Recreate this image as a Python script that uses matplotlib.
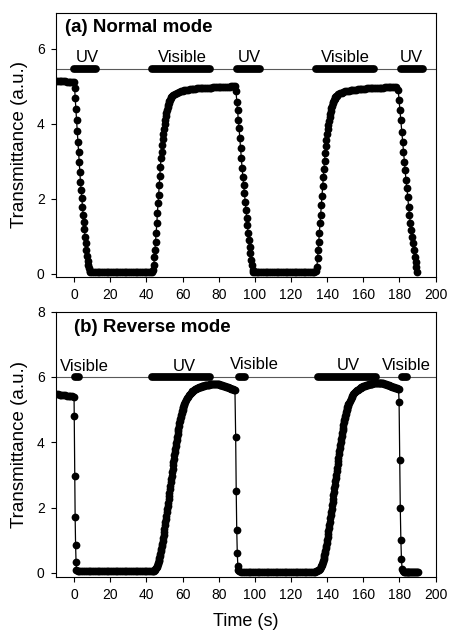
import numpy as np
import matplotlib
matplotlib.use("Agg")
import matplotlib.pyplot as plt

plt.rcParams['font.family'] = ['Liberation Sans', 'DejaVu Sans']

# ---------------- Panel (a): Normal mode ----------------
# each segment: (start time, time step) and its values
a_seg_times = [(-10, 1), (0.3, 0.36), (9, 1), (43.8, 0.33), (55, 1),
               (89.6, 0.42), (100, 1), (134, 0.35), (146, 1), (179.3, 0.48)]
a_flat0 = [5.14, 5.14, 5.13, 5.13, 5.13, 5.13, 5.12, 5.12, 5.12, 5.12, 5.11]
a_drop1 = [4.95, 4.68, 4.39, 4.10, 3.82, 3.52, 3.26, 2.99, 2.72, 2.46, 2.24, 2.02,
           1.79, 1.57, 1.39, 1.19, 0.99, 0.82, 0.64, 0.49, 0.35, 0.24, 0.15, 0.08]
a_low1 = [0.06, 0.05, 0.05, 0.05, 0.05, 0.05, 0.05, 0.05, 0.05, 0.05,
          0.05, 0.05, 0.05, 0.05, 0.05, 0.05, 0.05, 0.05, 0.05, 0.05,
          0.05, 0.05, 0.05, 0.05, 0.05, 0.05, 0.05, 0.05, 0.05, 0.05,
          0.05, 0.05, 0.05, 0.05, 0.05]
a_rise1 = [0.10, 0.24, 0.46, 0.64, 0.86, 1.08, 1.35, 1.62, 1.88, 2.10, 2.37, 2.61,
           2.86, 3.08, 3.26, 3.44, 3.60, 3.74, 3.87, 3.99, 4.10, 4.20, 4.29, 4.37,
           4.44, 4.50, 4.55, 4.60, 4.64, 4.68, 4.71, 4.74]
a_high1 = [4.77, 4.80, 4.83, 4.85, 4.87, 4.88, 4.89, 4.90, 4.91, 4.92,
           4.92, 4.93, 4.93, 4.94, 4.94, 4.95, 4.95, 4.95, 4.96, 4.96,
           4.96, 4.96, 4.97, 4.97, 4.97, 4.97, 4.98, 4.98, 4.98, 4.99,
           4.99, 4.99, 5.00, 5.00, 5.00]
a_drop2 = [4.86, 4.59, 4.37, 4.10, 3.88, 3.61, 3.35, 3.08, 2.81, 2.59, 2.37, 2.15,
           1.93, 1.70, 1.48, 1.30, 1.08, 0.91, 0.73, 0.55, 0.37, 0.24, 0.11, 0.04]
a_low2 = [0.04, 0.04, 0.04, 0.04, 0.04, 0.04, 0.04, 0.04, 0.04, 0.04,
          0.04, 0.04, 0.04, 0.04, 0.04, 0.04, 0.04, 0.04, 0.04, 0.04,
          0.04, 0.04, 0.04, 0.04, 0.04, 0.04, 0.04, 0.04, 0.04, 0.04,
          0.04, 0.04, 0.04, 0.05]
a_rise2 = [0.08, 0.19, 0.42, 0.64, 0.86, 1.08, 1.35, 1.57, 1.84, 2.08, 2.33, 2.58,
           2.79, 3.02, 3.21, 3.40, 3.57, 3.72, 3.85, 3.97, 4.08, 4.18, 4.27, 4.35,
           4.42, 4.48, 4.54, 4.59, 4.63, 4.67, 4.70, 4.73, 4.75]
a_high2 = [4.78, 4.81, 4.83, 4.85, 4.86, 4.87, 4.88, 4.89, 4.90, 4.91,
           4.91, 4.92, 4.92, 4.93, 4.93, 4.93, 4.94, 4.94, 4.94, 4.95,
           4.95, 4.95, 4.96, 4.96, 4.96, 4.96, 4.97, 4.97, 4.97, 4.97,
           4.98, 4.98, 4.98]
a_drop3 = [4.90, 4.63, 4.37, 4.10, 3.79, 3.52, 3.26, 2.99, 2.77, 2.50, 2.28, 2.06,
           1.79, 1.57, 1.35, 1.17, 0.99, 0.82, 0.64, 0.46, 0.33, 0.19, 0.06]
a_segments = [a_flat0, a_drop1, a_low1, a_rise1, a_high1,
              a_drop2, a_low2, a_rise2, a_high2, a_drop3]

a_bar_level = 5.45
a_bar_labels = ["UV", "Visible", "UV", "Visible", "UV"]
a_bar_start = [0, 43, 90, 134, 181]
a_bar_end = [12, 75, 103, 166, 193]
a_label_x = [7.4, 59.8, 96.9, 150.2, 186.7]

# ---------------- Panel (b): Reverse mode ----------------
b_seg_times = [(-10, 1), (0.1, 0.25), (2, 1),
               (43, 0.5), (45.5, 0.25), (61, 0.5),
               (89.4, 0.3), (91.5, 1),
               (134, 0.5), (136.5, 0.25), (152, 0.5),
               (179.8, 0.33), (182, 0.5)]
b_flat0 = [5.47, 5.47, 5.46, 5.45, 5.45, 5.44, 5.43, 5.43, 5.42, 5.41, 5.40]
b_drop1 = [4.79, 2.98, 1.70, 0.84, 0.34, 0.10]
b_low1 = [0.06, 0.05, 0.05, 0.05, 0.05, 0.05, 0.05, 0.05, 0.05, 0.05,
          0.05, 0.05, 0.05, 0.05, 0.05, 0.05, 0.05, 0.05, 0.05, 0.05,
          0.05, 0.05, 0.05, 0.05, 0.05, 0.05, 0.05, 0.05, 0.05, 0.05,
          0.05, 0.05, 0.05, 0.05, 0.05, 0.05, 0.05, 0.05, 0.05, 0.05, 0.05]
b_rise1_foot = [0.05, 0.06, 0.07, 0.09, 0.12]
b_rise1_steep = [0.16, 0.19, 0.22, 0.26, 0.30, 0.35, 0.40, 0.46, 0.52, 0.59,
                 0.66, 0.73, 0.81, 0.89, 0.98, 1.07, 1.16, 1.25, 1.35, 1.45,
                 1.55, 1.65, 1.75, 1.85, 1.95, 2.05, 2.15, 2.25, 2.35, 2.45,
                 2.56, 2.66, 2.77, 2.87, 2.98, 3.08, 3.19, 3.29, 3.40, 3.50,
                 3.60, 3.70, 3.80, 3.90, 3.99, 4.08, 4.17, 4.26, 4.34, 4.42,
                 4.50, 4.58, 4.65, 4.72, 4.78, 4.84, 4.90, 4.95, 5.00, 5.05,
                 5.09, 5.13]
b_rise1_top = [5.17, 5.24, 5.30, 5.35, 5.40, 5.44, 5.48, 5.51, 5.54, 5.56,
               5.58, 5.60, 5.62, 5.64, 5.65, 5.67, 5.68, 5.69, 5.70, 5.71,
               5.72, 5.73, 5.73, 5.74, 5.75, 5.75, 5.76, 5.76, 5.77, 5.77,
               5.77, 5.78, 5.78, 5.78, 5.78, 5.78, 5.78, 5.77, 5.77, 5.76,
               5.76, 5.75, 5.74, 5.73, 5.72, 5.71, 5.70, 5.69, 5.68, 5.67,
               5.66, 5.65, 5.64, 5.63, 5.62, 5.61, 5.60]
b_drop2 = [4.17, 2.52, 1.30, 0.60, 0.22, 0.08]
b_low2 = [0.05, 0.04, 0.04, 0.04, 0.04, 0.04, 0.04, 0.04, 0.04, 0.04,
          0.04, 0.04, 0.04, 0.04, 0.04, 0.04, 0.04, 0.04, 0.04, 0.04,
          0.04, 0.04, 0.04, 0.04, 0.04, 0.04, 0.04, 0.04, 0.04, 0.04,
          0.04, 0.04, 0.04, 0.04, 0.04, 0.04, 0.04, 0.04, 0.04, 0.04,
          0.04, 0.04, 0.04]
b_rise2_foot = [0.05, 0.06, 0.08, 0.10, 0.13]
b_rise2_steep = [0.18, 0.21, 0.24, 0.28, 0.32, 0.37, 0.42, 0.48, 0.54, 0.61,
                 0.68, 0.75, 0.83, 0.91, 1.00, 1.09, 1.18, 1.27, 1.37, 1.47,
                 1.57, 1.67, 1.77, 1.87, 1.97, 2.07, 2.17, 2.27, 2.38, 2.48,
                 2.59, 2.69, 2.80, 2.90, 3.01, 3.11, 3.22, 3.32, 3.43, 3.53,
                 3.63, 3.73, 3.83, 3.93, 4.02, 4.11, 4.20, 4.29, 4.37, 4.45,
                 4.53, 4.61, 4.68, 4.75, 4.81, 4.87, 4.93, 4.98, 5.03, 5.08,
                 5.12, 5.16]
b_rise2_top = [5.20, 5.27, 5.33, 5.38, 5.43, 5.47, 5.51, 5.54, 5.57, 5.59,
               5.61, 5.63, 5.65, 5.67, 5.68, 5.70, 5.71, 5.72, 5.73, 5.74,
               5.75, 5.76, 5.77, 5.77, 5.78, 5.79, 5.79, 5.80, 5.80, 5.81,
               5.81, 5.81, 5.82, 5.82, 5.82, 5.82, 5.81, 5.81, 5.80, 5.79,
               5.78, 5.77, 5.76, 5.75, 5.74, 5.73, 5.72, 5.71, 5.70, 5.69,
               5.68, 5.67, 5.66, 5.65, 5.64, 5.63]
b_drop3 = [5.24, 3.46, 1.98, 1.00, 0.41, 0.13]
b_low3 = [0.05, 0.04, 0.04, 0.04, 0.03, 0.04, 0.04, 0.03, 0.04,
          0.04, 0.03, 0.04, 0.04, 0.03, 0.04, 0.04, 0.03]
b_segments = [b_flat0, b_drop1, b_low1,
              b_rise1_foot, b_rise1_steep, b_rise1_top,
              b_drop2, b_low2,
              b_rise2_foot, b_rise2_steep, b_rise2_top,
              b_drop3, b_low3]

b_bar_level = 6.0
b_bar_labels = ["Visible", "UV", "Visible", "UV", "Visible"]
b_bar_start = [0.5, 43, 91, 135, 181.3]
b_bar_end = [3, 75, 94.5, 167, 184.4]
b_label_x = [5.9, 61, 99.8, 151.7, 184.1]
b_label_y = [6.18, 6.18, 6.24, 6.22, 6.22]


def build(seg_times, segs):
    ts, vs = [], []
    for (t0, dt), vals in zip(seg_times, segs):
        ts.append(t0 + dt * np.arange(len(vals)))
        vs.append(np.asarray(vals, dtype=float))
    return np.concatenate(ts), np.concatenate(vs)


fig = plt.figure(figsize=(4.5, 6.33), dpi=100)
ax_a = fig.add_axes([0.1244, 0.5624, 0.8436, 0.4171])
ax_b = fig.add_axes([0.1244, 0.0889, 0.8436, 0.4187])

tA, yA = build(a_seg_times, a_segments)
tB, yB = build(b_seg_times, b_segments)

for ax, t, y in [(ax_a, tA, yA), (ax_b, tB, yB)]:
    ax.plot(t, y, color='black', lw=0.9, marker='o', ms=5.6,
            markeredgewidth=0, markerfacecolor='black', zorder=3)

# reference lines and exposure bars
ax_a.axhline(a_bar_level, color='0.35', lw=0.8, zorder=1)
for s, e, lab, lx in zip(a_bar_start, a_bar_end, a_bar_labels, a_label_x):
    ax_a.plot([s, e], [a_bar_level, a_bar_level], color='black', lw=5.6,
              solid_capstyle='round', zorder=2)
    ax_a.text(lx, 5.64, lab, ha='center', va='baseline', fontsize=12)

ax_b.axhline(b_bar_level, color='0.35', lw=0.8, zorder=1)
for s, e, lab, lx, ly in zip(b_bar_start, b_bar_end, b_bar_labels, b_label_x, b_label_y):
    ax_b.plot([s, e], [b_bar_level, b_bar_level], color='black', lw=5.6,
              solid_capstyle='round', zorder=2)
    ax_b.text(lx, ly, lab, ha='center', va='baseline', fontsize=12)

ax_a.set_xlim(-10, 200)
ax_a.set_ylim(-0.08, 6.95)
ax_a.set_yticks([0, 2, 4, 6])
ax_b.set_xlim(-10, 200)
ax_b.set_ylim(-0.12, 8)
ax_b.set_yticks([0, 2, 4, 6, 8])

for ax in (ax_a, ax_b):
    ax.set_xticks(np.arange(0, 201, 20))
    ax.tick_params(direction='out', length=3.6, width=0.8, labelsize=10,
                   pad=4.5, top=False, right=False)
    for sp in ax.spines.values():
        sp.set_linewidth(0.8)
    ax.set_ylabel("Transmittance (a.u.)", fontsize=13.5)
    ax.yaxis.set_label_coords(-0.075, 0.5)

ax_a.text(0.024, 0.929, "(a) Normal mode", transform=ax_a.transAxes,
          fontsize=13.5, fontweight='bold', ha='left', va='baseline')
ax_b.text(0.047, 0.925, "(b) Reverse mode", transform=ax_b.transAxes,
          fontsize=13.5, fontweight='bold', ha='left', va='baseline')

ax_b.set_xlabel("Time (s)", fontsize=13)
ax_b.xaxis.set_label_coords(0.5, -0.135)

fig.savefig("out.png", dpi=100)
